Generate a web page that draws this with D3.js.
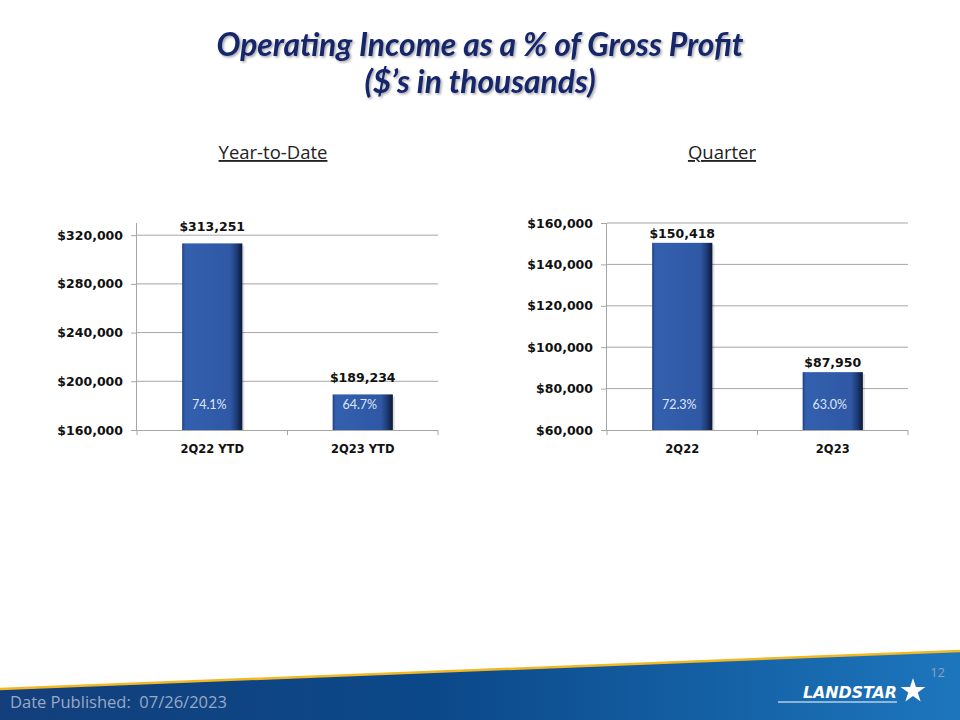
<!DOCTYPE html>
<html>
<head>
<meta charset="utf-8">
<script src="https://cdn.jsdelivr.net/npm/d3@7"></script>
<style>
html,body{margin:0;padding:0;background:#fff;}
svg{display:block;}
</style>
</head>
<body>
<svg id="chart" width="960" height="720"></svg>
<script>
// ---- data ----
const ytdCategories = ["2Q22 YTD", "2Q23 YTD"];
const ytdValues = [313251, 189234];
const ytdPercents = ["74.1%", "64.7%"];
const ytdTicks = [160000, 200000, 240000, 280000, 320000];

const qtrCategories = ["2Q22", "2Q23"];
const qtrValues = [150418, 87950];
const qtrPercents = ["72.3%", "63.0%"];
const qtrTicks = [60000, 80000, 100000, 120000, 140000, 160000];

const titleLines = ["Operating Income as a % of Gross Profit", "($\u2019s in thousands)"];
const publishedText = "Date Published:  07/26/2023";
const pageNumber = "12";

const svg = d3.select("#chart");
const defs = svg.append("defs");

// bar gradient
const bg = defs.append("linearGradient").attr("id","barGrad").attr("x1","0").attr("x2","1").attr("y1","0").attr("y2","0");
[[0,"#203f80"],[0.05,"#3360ae"],[0.8,"#2f58a5"],[0.9,"#1f3d7a"],[1,"#0b1834"]].forEach(s=>bg.append("stop").attr("offset",s[0]).attr("stop-color",s[1]));

// footer gradient
const fg = defs.append("linearGradient").attr("id","footGrad").attr("x1","0").attr("x2","1").attr("y1","0").attr("y2","0");
[[0,"#133f7c"],[0.45,"#0b4889"],[1,"#1d76bd"]].forEach(s=>fg.append("stop").attr("offset",s[0]).attr("stop-color",s[1]));

// title shadow filter
const flt = defs.append("filter").attr("id","tshadow").attr("x","-5%").attr("y","-20%").attr("width","110%").attr("height","150%");
flt.append("feDropShadow").attr("dx",1.5).attr("dy",1.5).attr("stdDeviation",1).attr("flood-color","#000").attr("flood-opacity",0.35);

// ---- title ----
const titleG = svg.append("g").attr("filter","url(#tshadow)");
let titleSize = 28;
[[titleLines[0],56],[titleLines[1],93]].forEach(([t,y],i)=>{
  const el = titleG.append("text").attr("x",480).attr("y",y).attr("text-anchor","middle")
    .attr("font-family","Lato, 'Open Sans', sans-serif").attr("font-weight","bold").attr("font-style","italic")
    .attr("font-size",titleSize).attr("fill","#17256a").text(t);
  if(i===0){
    const w = el.node().getComputedTextLength();
    titleSize = 28*527/w;
    el.attr("font-size", titleSize);
  }
});

// ---- subtitles ----
function subtitle(text, cx){
  svg.append("text").attr("x",cx).attr("y",159).attr("text-anchor","middle")
    .attr("font-family","'Open Sans', Lato, sans-serif").attr("font-size",18.5).attr("fill","#222")
    .attr("text-decoration","underline").text(text);
}
subtitle("Year-to-Date", 273);
subtitle("Quarter", 722);

// ---- chart builder ----
function drawChart(cfg){
  const g = svg.append("g");
  const x = d3.scaleBand().domain(cfg.categories).range([cfg.left, cfg.right]).paddingInner(0.6).paddingOuter(0.3);
  const y = d3.scaleLinear().domain(cfg.domain).range([cfg.bottom, cfg.top]);

  // gridlines
  g.append("g").selectAll("line").data(cfg.ticks.filter(t=>t!==cfg.domain[0])).join("line")
    .attr("x1",cfg.left).attr("x2",cfg.right).attr("y1",d=>y(d)).attr("y2",d=>y(d))
    .attr("stroke","#a6a6a6").attr("stroke-width",1);

  // y axis
  const ya = g.append("g").attr("transform",`translate(${cfg.left},0)`)
    .call(d3.axisLeft(y).tickValues(cfg.ticks).tickSize(6).tickPadding(8).tickFormat(d=>"$"+d3.format(",")(d)));
  ya.select(".domain").attr("stroke","#a6a6a6").attr("d",`M-0.5,${cfg.top}V${cfg.bottom}`);
  ya.selectAll(".tick line").attr("stroke","#a6a6a6");
  ya.selectAll(".tick text").attr("font-family","'DejaVu Sans', Verdana, sans-serif").attr("font-weight","bold")
    .attr("font-size",12.5).attr("fill","#111");

  // x axis
  const xa = g.append("g").attr("transform",`translate(0,${cfg.bottom})`)
    .call(d3.axisBottom(x).tickSize(0).tickPadding(15));
  xa.select(".domain").attr("stroke","#a6a6a6").attr("d",`M${cfg.left},0.5H${cfg.right}`);
  xa.selectAll(".tick text").attr("font-family","'DejaVu Sans', Verdana, sans-serif").attr("font-weight","bold")
    .attr("font-size",11.5).attr("fill","#111");
  // category boundary tick marks
  const bounds = [cfg.left, cfg.left + (cfg.right-cfg.left)/2, cfg.right];
  xa.append("g").selectAll("line").data(bounds).join("line")
    .attr("x1",d=>d).attr("x2",d=>d).attr("y1",0).attr("y2",5).attr("stroke","#a6a6a6");

  // bars
  const data = cfg.categories.map((c,i)=>({c, v:cfg.values[i], p:cfg.percents[i]}));
  g.append("g").selectAll("rect").data(data).join("rect")
    .attr("x",d=>x(d.c)+2).attr("y",d=>y(d.v)+2).attr("width",x.bandwidth()).attr("height",d=>cfg.bottom-y(d.v)-2)
    .attr("fill","#000").attr("opacity",0.12);
  g.append("g").selectAll("rect").data(data).join("rect")
    .attr("x",d=>x(d.c)).attr("y",d=>y(d.v)).attr("width",x.bandwidth()).attr("height",d=>cfg.bottom-y(d.v))
    .attr("fill","url(#barGrad)");

  // value labels
  g.append("g").selectAll("text").data(data).join("text")
    .attr("x",d=>x(d.c)+x.bandwidth()/2).attr("y",d=>y(d.v)-cfg.labelGap).attr("text-anchor","middle")
    .attr("font-family","'DejaVu Sans', Verdana, sans-serif").attr("font-weight","bold").attr("font-size",12.5)
    .attr("fill","#111").text(d=>"$"+d3.format(",")(d.v));

  // percent labels
  g.append("g").selectAll("text").data(data).join("text")
    .attr("x",d=>x(d.c)+x.bandwidth()/2-3).attr("y",cfg.bottom-21).attr("text-anchor","middle")
    .attr("font-family","Lato, 'Open Sans', sans-serif").attr("font-size",12.5)
    .attr("fill","#dfe6f7").text(d=>d.p);
}

drawChart({categories:ytdCategories, values:ytdValues, percents:ytdPercents, ticks:ytdTicks,
  domain:[160000,330000], left:137, right:438, top:223, bottom:430, labelGap:12});
drawChart({categories:qtrCategories, values:qtrValues, percents:qtrPercents, ticks:qtrTicks,
  domain:[60000,160000], left:607, right:908, top:223, bottom:430, labelGap:5});

// ---- footer ----
svg.append("path").attr("d","M0,689 L960,651 L960,720 L0,720 Z").attr("fill","url(#footGrad)");
svg.append("path").attr("d","M0,689 L960,651").attr("stroke","#f2b824").attr("stroke-width",2.5).attr("fill","none");
svg.append("text").attr("x",10).attr("y",708).attr("font-family","'Open Sans', Lato, sans-serif").attr("font-size",16.5)
  .attr("fill","#98a9c4").style("white-space","pre").text(publishedText);
svg.append("text").attr("x",945).attr("y",677).attr("text-anchor","end").attr("font-family","'Open Sans', Lato, sans-serif")
  .attr("font-size",13).attr("fill","#8fa0b8").text(pageNumber);

// logo
const logo = svg.append("g");
logo.append("line").attr("x1",778).attr("x2",897).attr("y1",702).attr("y2",702).attr("stroke","#fff").attr("stroke-width",1.2);
const lt = logo.append("text").attr("x",803).attr("y",698).attr("font-family","'DejaVu Sans', sans-serif").attr("font-weight","bold")
  .attr("font-style","italic").attr("font-size",15).attr("fill","#fff").text("LANDSTAR");
lt.attr("textLength",94).attr("lengthAdjust","spacingAndGlyphs");
const starPts = d3.range(10).map(i=>{const a=-Math.PI/2+i*Math.PI/5; const r=i%2?5:13; return [913+r*Math.cos(a), 691+r*Math.sin(a)];});
logo.append("polygon").attr("points",starPts.map(p=>p.join(",")).join(" ")).attr("fill","#fff");
</script>
</body>
</html>
